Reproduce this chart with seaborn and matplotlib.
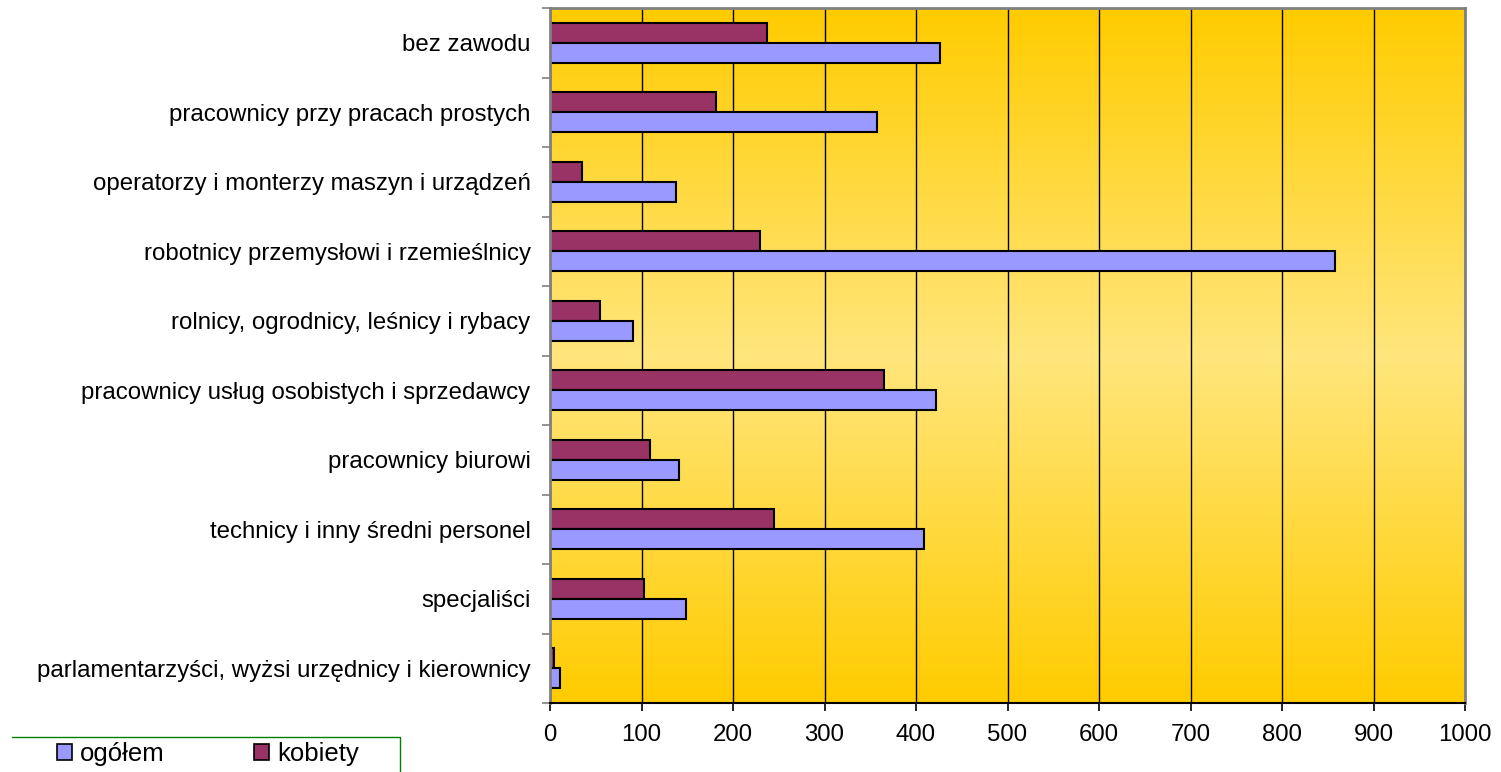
import matplotlib
matplotlib.use("Agg")
import matplotlib.pyplot as plt
import numpy as np
import pandas as pd
import seaborn as sns
from matplotlib.lines import Line2D
from matplotlib.patches import Patch

categories = [
    "bez zawodu",
    "pracownicy przy pracach prostych",
    "operatorzy i monterzy maszyn i urządzeń",
    "robotnicy przemysłowi i rzemieślnicy",
    "rolnicy, ogrodnicy, leśnicy i rybacy",
    "pracownicy usług osobistych i sprzedawcy",
    "pracownicy biurowi",
    "technicy i inny średni personel",
    "specjaliści",
    "parlamentarzyści, wyżsi urzędnicy i kierownicy",
]
ogolem = [426, 357, 138, 858, 91, 422, 141, 409, 149, 11]
kobiety = [237, 181, 35, 230, 55, 365, 109, 245, 103, 4]
x_ticks = list(range(0, 1001, 100))

sns.set_theme(style="white")
plt.rcParams["font.family"] = ["Liberation Sans", "DejaVu Sans"]
plt.rcParams["text.color"] = "black"
plt.rcParams["xtick.color"] = "black"
plt.rcParams["ytick.color"] = "black"

df = pd.DataFrame({
    "zawod": categories * 2,
    "seria": ["kobiety"] * len(categories) + ["ogółem"] * len(categories),
    "liczba": kobiety + ogolem,
})
colors = {"ogółem": "#9999FF", "kobiety": "#993366"}

fig = plt.figure(figsize=(15.01, 7.72), dpi=100)
ax = fig.add_axes([550 / 1501, 1 - 703 / 772, 915 / 1501, 695 / 772])

# vertical gradient background: dark at top/bottom, lighter in the middle
t = np.linspace(0, 1, 256)
w = 1 - np.abs(t - 0.5) * 2
top = np.array([255, 204, 0]) / 255
mid = np.array([255, 230, 125]) / 255
grad = top[None, :] * (1 - w[:, None]) + mid[None, :] * w[:, None]
ax.imshow(grad[:, None, :], extent=[0, 1, 0, 1], transform=ax.transAxes,
          aspect="auto", zorder=0)

sns.barplot(data=df, y="zawod", x="liczba", hue="seria", order=categories,
            hue_order=["kobiety", "ogółem"], palette=colors, orient="h",
            width=0.58, saturation=1, edgecolor="black", linewidth=1.5,
            legend=False, ax=ax, zorder=2)

ax.set_xlim(0, 1000)
ax.set_ylim(len(categories) - 0.5, -0.5)
ax.set_xticks(x_ticks)
ax.set_xticklabels([str(v) for v in x_ticks], fontsize=17.3)
ax.set_yticks(range(len(categories)))
ax.set_yticklabels(categories, fontsize=17.3)
ax.set_yticks(np.arange(-0.5, len(categories), 1), minor=True)
ax.tick_params(axis="y", which="major", length=0, pad=14)
ax.tick_params(axis="y", which="minor", length=6, width=1.2, color="#808080", left=True)
ax.tick_params(axis="x", which="major", length=6, width=1.2, color="black", pad=9,
               bottom=True)
ax.set_xlabel("")
ax.set_ylabel("")

ax.grid(axis="x", color="black", linewidth=1)
ax.grid(axis="y", visible=False)
ax.set_axisbelow(True)

for side in ["top", "right", "left"]:
    ax.spines[side].set_color("#808080")
    ax.spines[side].set_linewidth(2)
ax.spines["bottom"].set_color("black")
ax.spines["bottom"].set_linewidth(1.5)

# legend box (only top and right edge visible, rest falls off the figure)
box_x0, box_x1, box_y = 12 / 1501, 400 / 1501, 1 - 737 / 772
fig.add_artist(Line2D([box_x0, box_x1, box_x1], [box_y, box_y, -0.05],
                      transform=fig.transFigure, color="#008000", linewidth=1))

handles = [Patch(facecolor=colors["ogółem"], edgecolor="black", linewidth=1.2, label="ogółem"),
           Patch(facecolor=colors["kobiety"], edgecolor="black", linewidth=1.2, label="kobiety")]
fig.legend(handles=handles, loc="center left", ncol=2,
           bbox_to_anchor=(57 / 1501, 1 - 754 / 772),
           fontsize=18.5, frameon=False,
           handlelength=0.58, handleheight=0.58, handletextpad=0.3,
           columnspacing=3.5, borderpad=0, borderaxespad=0)

fig.savefig("out.png", dpi=100)
